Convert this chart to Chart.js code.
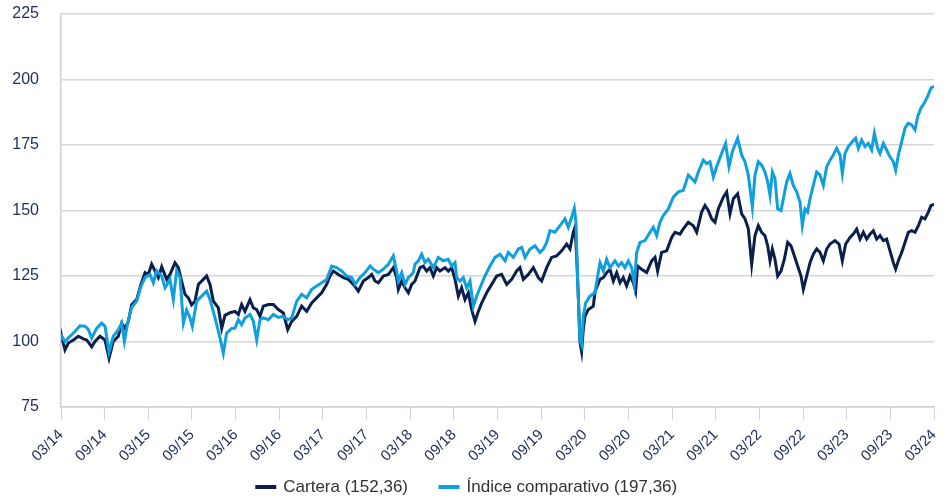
<!DOCTYPE html>
<html>
<head>
<meta charset="utf-8">
<script src="https://cdn.jsdelivr.net/npm/chart.js@4"></script>
<style>
html,body{margin:0;padding:0;background:#fff;}
#wrap{width:947px;height:500px;}
</style>
</head>
<body>
<div id="wrap"><canvas id="c" width="947" height="500"></canvas></div>
<script>
// Months elapsed since March 2014
const tickLabels = ['03/14','09/14','03/15','09/15','03/16','09/16','03/17','09/17','03/18','09/18','03/19','09/19','03/20','09/20','03/21','09/21','03/22','09/22','03/23','09/23','03/24'];
const seriesNames = ['Cartera (152,36)', 'Índice comparativo (197,36)'];

const carteraMonths = [0,0.09,0.55,1.01,1.70,2.38,3.07,3.53,4.22,4.67,5.36,6.05,6.6,7.19,7.88,8.34,8.80,9.26,9.71,10.4,10.99,11.55,12.0,12.46,12.92,13.38,13.84,14.53,14.98,15.67,16.13,16.59,17.04,17.5,17.96,18.42,18.88,19.56,20.02,20.48,20.94,21.63,22.09,22.54,23.23,
23.92,24.38,24.83,25.29,25.98,26.44,26.9,27.35,27.81,28.5,29.19,29.87,30.56,31.16,31.71,32.4,33.08,33.77,34.46,35.15,35.83,36.52,36.98,37.44,38.12,38.81,39.5,40.19,40.87,41.56,42.25,42.71,43.16,43.62,44.31,45.0,45.68,46.14,46.37,46.83,47.29,47.75,48.2,
48.66,49.35,49.8,50.26,50.72,51.18,51.64,52.1,52.78,53.24,53.7,54.16,54.62,55.07,55.53,55.99,56.45,56.91,57.37,57.82,58.51,59.2,59.89,60.57,61.26,61.95,62.63,63.09,63.55,64.24,64.93,65.61,66.07,66.76,67.44,68.13,68.82,69.5,69.96,70.42,70.65,70.88,71.11,71.33,71.56,71.79,72.02,72.48,73.17,
73.4,74.09,74.55,75.0,75.46,75.92,76.38,76.84,77.29,77.75,78.21,78.67,78.99,79.26,79.81,80.5,81.19,81.65,82.01,82.56,83.25,83.94,84.4,85.08,85.54,86.23,86.92,87.38,88.06,88.52,88.98,89.44,89.9,90.35,91.04,91.5,91.96,92.42,93.01,93.56,94.02,94.48,94.94,95.39,95.85,96.31,
96.77,97.14,97.46,97.78,98.14,98.51,98.97,99.43,99.89,100.34,100.8,101.26,101.72,102.04,102.5,102.96,103.41,103.87,104.33,104.79,105.25,105.7,106.39,106.94,107.4,107.86,108.45,108.91,109.37,109.83,110.29,110.75,111.2,111.66,112.12,112.58,113.04,113.49,113.95,114.41,114.73,115.1,115.56,116.01,116.47,116.93,117.39,117.85,118.3,118.76,119.22,119.59,120];
const carteraValues = [101,102,96.8,99.4,100.6,102,101,100.6,98,100,102,100.6,93.6,100,102,107,105,107.7,114,116,121.8,126.3,125.6,129.5,127,124.4,128.5,123.7,125.6,130,128.2,123,118,116.7,114,115.4,121.8,123.7,125,121.8,115.4,112.8,105,110,111,
111.5,110.3,114.1,111.5,116,112.8,112.2,109.6,113.5,114.1,114.1,112.2,110.9,104.5,107.7,109.6,113.5,111.5,114.7,116.7,118.6,121.8,125,126.9,125.6,124.4,123.7,121.8,119.2,123.1,124.4,125.6,123.1,122.4,125,125.6,128.2,124.4,119.9,123.1,120.5,118.6,121.8,
123.1,128.2,128.8,126.9,128.2,125,128.2,126.9,128.2,126.9,128.2,123.7,117.3,120.5,116,118.6,112.2,107.7,111.5,114.7,118.6,121.8,125,125.6,121.8,123.7,126.9,128.2,123.7,125.6,128.2,124.4,123.1,128.2,132.1,132.7,134.6,137.2,135.3,141.7,143.6,132.7,117.3,100,96.2,104.5,109.6,112.2,113.5,
119,123.7,124.4,126.3,127.6,123.1,126.3,122.4,124.4,121.2,125,122.4,119.2,128.8,127.6,126.3,130.8,132.1,126.9,134,134.6,139.7,141.7,141,143,145.5,144.2,141.7,149.4,151.9,150,146.8,145.5,150.6,155.1,157.1,148.7,154.5,156.4,148.7,146.8,143,129.5,140.4,144.2,141.7,
140.4,136.5,130.8,135.3,131.4,125,126.9,131.4,137.8,136.5,132.7,128.8,125,119.9,125,130.1,133.3,135.3,134,130.8,135.3,137.2,138.5,137.2,130.8,137.2,139.7,141,142.9,139.1,141.7,139.1,141,142.3,139.1,140.4,138.5,139.1,134.6,130.1,127.6,130.8,134,137.8,141.7,142.3,141.7,144.2,147.4,146.8,149.4,151.9,152.36];

const indiceMonths = [0,0.09,0.55,1.24,1.92,2.61,3.30,3.76,4.22,4.90,5.59,6.05,6.6,7.19,7.88,8.34,8.71,9.16,9.71,10.4,10.99,11.55,12.23,12.69,13.15,13.84,14.3,14.98,15.44,15.9,16.36,16.82,17.27,17.73,18.05,18.65,19.34,20.02,20.48,21.17,21.86,22.31,22.77,23.46,
23.92,24.38,24.83,25.29,25.98,26.44,26.9,27.35,27.81,28.5,29.19,29.87,30.56,31.16,31.71,32.4,33.08,33.77,34.46,35.15,35.83,36.52,37.21,37.89,38.58,39.27,39.96,40.42,41.1,41.79,42.48,42.93,43.62,44.31,45.0,45.68,46.14,46.37,46.83,47.29,47.75,48.43,
48.66,49.12,49.58,50.03,50.49,51.18,51.87,52.55,53.24,53.7,54.16,54.39,54.85,55.3,55.76,56.22,56.68,57.14,57.6,58.28,58.97,59.66,60.35,61.03,61.49,62.18,62.86,63.32,63.78,64.47,65.15,65.84,66.3,66.76,67.21,67.9,68.59,69.28,69.73,70.19,70.56,70.79,71.01,71.33,71.56,71.79,72.11,72.71,73.4,73.85,
74.09,74.55,75.0,75.46,76.15,76.61,77.07,77.52,77.98,78.44,78.81,79.13,79.59,80.27,80.96,81.42,81.88,82.33,82.79,83.48,84.17,84.86,85.54,86.23,86.69,87.15,87.6,88.29,88.75,89.21,89.67,90.12,90.81,91.36,91.82,92.28,93.01,93.56,94.02,94.48,95.03,95.39,95.85,96.31,
96.77,97.14,97.46,97.78,98.14,98.51,98.97,99.29,99.75,100.2,100.66,101.12,101.58,101.9,102.27,102.63,102.96,103.41,103.87,104.33,104.79,105.25,105.7,106.16,106.62,107.08,107.4,107.77,108.23,108.78,109.23,109.6,110.06,110.52,110.97,111.43,111.8,112.26,112.58,113.04,113.49,113.95,114.41,114.73,115.1,115.56,116.01,116.47,116.93,117.39,117.76,118.21,118.67,119.13,119.59,120];
const indiceValues = [101,102,100,102,103.8,106,105.8,104.5,101.3,105,107,105.8,96,102,104.5,107,100,107,113,115.4,121,124.4,125.6,122.4,127,125,120.5,123.7,116,127,124.4,107,112,109,105.8,115.4,117.3,119.2,116,109,101.3,95.5,103.2,105,
105.1,108.3,106.4,109,110.3,107.7,100.6,108.3,109,108.3,110.3,109.2,109.6,108.3,109,115.4,118,116.7,119.9,121.2,122.4,123.7,128.8,128.2,126.9,125,124.4,121.8,124.4,126.3,128.8,127.6,126.3,127.6,129.5,132.7,126.9,123.1,126.3,121.8,124.4,126.3,
129.5,130.8,133.3,130.1,131.4,128.2,132.1,130.8,131.4,128.8,130.1,124.4,123.1,124.4,120.5,123.1,113.5,117.3,120.5,125,128.8,132.1,133.3,130.8,134,132.1,135.3,135.9,132.1,135.3,136.5,134,135.3,137.8,142.3,141.7,144.2,146.8,143.6,147.4,150.9,145.5,123.7,100.6,98.7,109.6,114.7,117.3,118.6,126.3,
130.1,126.9,131.4,128.2,130.8,128.8,130.1,128.2,130.8,128.2,121.8,134,137.8,138.5,141.7,143.6,140.4,145.5,148.1,150.6,155.1,157.1,157.7,163.5,162.2,160.9,164.7,169.2,167.9,168.6,162.8,166.7,171.8,175.6,166.7,172.4,177.6,171.2,168.6,163.5,151.3,163.5,168.6,167.3,
164.7,160.9,155.8,164.7,162.2,150.6,150,154.5,160.9,164.1,159.6,157.1,153.2,144.2,150.6,149.4,154.5,159.6,164.7,163.5,159.6,166.7,169.2,171.2,173.7,171.2,164.1,171.8,174.4,176.3,177.6,173.7,176.9,174.4,175.6,173.1,179.5,173.7,171.8,175.6,173.1,170.5,168.6,165.4,171.2,176.3,181.4,183.3,182.7,180.8,185.9,189.1,191,193.6,196.8,197.36];

const yTicks = [75,100,125,150,175,200,225];

const toXY = (xs, ys) => xs.map((x, i) => ({x: x, y: ys[i]}));

const FONT = '"Liberation Sans", Arial, sans-serif';
const DARK = '#0b1f4d';
const LIGHT = '#0f9fdf';

new Chart(document.getElementById('c'), {
  type: 'line',
  data: {
    datasets: [
      {label: seriesNames[0], data: toXY(carteraMonths, carteraValues), borderColor: DARK, backgroundColor: DARK, borderWidth: 3, pointRadius: 0, tension: 0, order: 1},
      {label: seriesNames[1], data: toXY(indiceMonths, indiceValues), borderColor: LIGHT, backgroundColor: LIGHT, borderWidth: 3, pointRadius: 0, tension: 0, order: 0}
    ]
  },
  options: {
    responsive: false,
    animation: false,
    events: [],
    layout: {padding: {top: 14, right: 13, left: 0, bottom: -5.5}},
    plugins: {
      tooltip: {enabled: false},
      legend: {
        position: 'bottom',
        labels: {
          sort: (a, b) => a.datasetIndex - b.datasetIndex,
          boxWidth: 18, boxHeight: 1, padding: 32,
          color: '#333333',
          font: {family: FONT, size: 17}
        }
      }
    },
    scales: {
      x: {
        type: 'linear', min: 0, max: 120,
        afterFit: s => {
          s.height = 39.5; s.paddingLeft = 0; s.paddingRight = 0;
          s._computeLabelArea = () => null;
        },
        afterBuildTicks: s => { s.ticks = tickLabels.map((_, i) => ({value: i * 6})); },
        grid: {display: true, drawOnChartArea: false, drawTicks: true, tickLength: 13, color: '#cdd5e5', lineWidth: 1},
        border: {display: true, color: '#d0d0d0', width: 1.5},
        ticks: {
          autoSkip: false, minRotation: 45, maxRotation: 45, padding: 6,
          color: '#1f2d5c', font: {family: FONT, size: 15},
          callback: v => tickLabels[Math.round(v / 6)]
        }
      },
      y: {
        min: 75, max: 225,
        afterFit: s => { s.width = 61; s.paddingTop = 0; s.paddingBottom = 0; },
        afterBuildTicks: s => { s.ticks = yTicks.map(v => ({value: v})); },
        grid: {color: '#d6d6d6', lineWidth: 1.5, drawTicks: false},
        border: {display: true, color: '#d0d0d0', width: 1.5},
        ticks: {color: '#1f2d5c', padding: 22, font: {family: FONT, size: 16}}
      }
    }
  }
});
</script>
</body>
</html>
